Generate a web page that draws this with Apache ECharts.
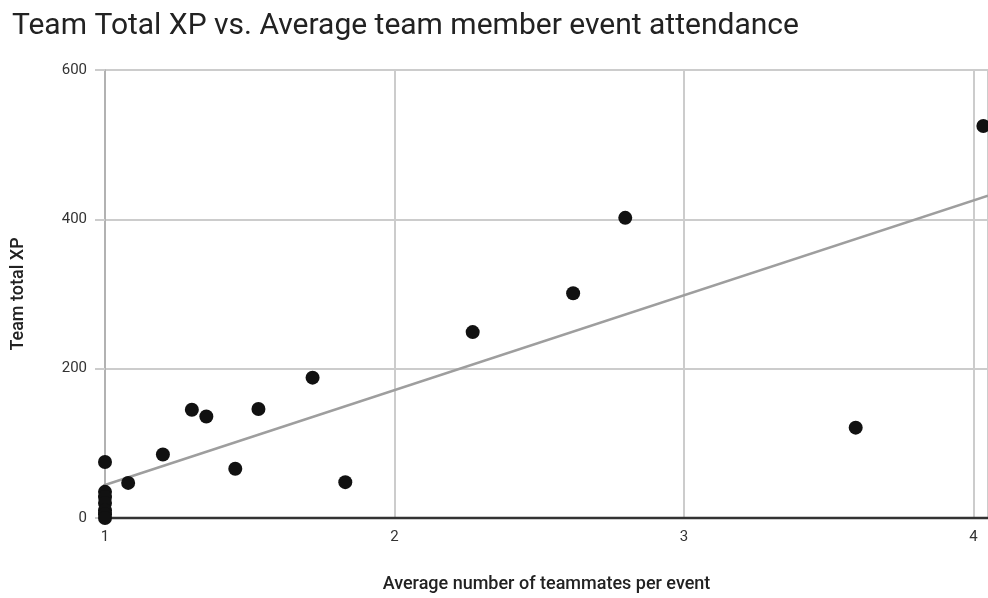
<!DOCTYPE html>
<html>
<head>
<meta charset="utf-8">
<script src="https://cdn.jsdelivr.net/npm/echarts@6/dist/echarts.min.js"></script>
<style>html,body{margin:0;padding:0;background:#fff;}#c{width:988px;height:598px;}</style>
</head>
<body>
<div id="c"></div>
<script>
const titleText = 'Team Total XP vs. Average team member event attendance';
const xName = 'Average number of teammates per event';
const yName = 'Team total XP';
const avgTeammates = [1, 1, 1, 1, 1, 1, 1, 1.08, 1.2, 1.3, 1.35, 1.45, 1.53, 1.717, 1.83, 2.27, 2.617, 2.797, 3.593, 4.034];
const teamXP = [75, 35, 28, 20, 10, 5, 0, 47, 85, 145, 136, 66, 146, 188, 48, 249, 301, 402, 121, 525];
const xTicks = [1, 2, 3, 4];
const yTicks = [0, 200, 400, 600];

const points = avgTeammates.map((x, i) => [x, teamXP[i]]);
// least squares trendline computed from the data
const n = points.length;
const mx = avgTeammates.reduce((a, b) => a + b, 0) / n;
const my = teamXP.reduce((a, b) => a + b, 0) / n;
let sxy = 0, sxx = 0;
for (let i = 0; i < n; i++) { sxy += (avgTeammates[i] - mx) * (teamXP[i] - my); sxx += (avgTeammates[i] - mx) ** 2; }
const slope = sxy / sxx, intercept = my - slope * mx;
const xLo = 0.965, xHi = 4.05;
const trend = [[xLo, intercept + slope * xLo], [xHi, intercept + slope * xHi]];

const chart = echarts.init(document.getElementById('c'), null, { renderer: 'canvas' });
chart.setOption({
  animation: false,
  textStyle: { fontFamily: 'Roboto' },
  title: { text: titleText, left: 7, top: 6, textStyle: { fontFamily: 'Roboto', fontSize: 30, fontWeight: 'normal', color: '#222' } },
  grid: { left: 105, right: 0, top: 70, bottom: 74, containLabel: false },
  xAxis: {
    type: 'value', min: xTicks[0], max: xHi, interval: 1,
    name: xName, nameLocation: 'middle', nameGap: 57,
    nameTextStyle: { fontFamily: 'Roboto', fontSize: 18, fontWeight: 500, color: '#222' },
    axisLine: { show: false },
    axisTick: { show: false },
    axisLabel: { color: '#333', fontSize: 15, margin: 12, showMaxLabel: false },
    splitLine: { show: true, lineStyle: { color: '#cccccc', width: 2 } }
  },
  yAxis: {
    type: 'value', min: yTicks[0], max: yTicks[yTicks.length - 1], interval: 200,
    name: yName, nameLocation: 'middle', nameGap: 78,
    nameTextStyle: { fontFamily: 'Roboto', fontSize: 18, fontWeight: 500, color: '#222' },
    axisLine: { show: true, lineStyle: { color: '#aaaaaa', width: 1.5 } },
    axisTick: { show: true, length: 10, lineStyle: { color: '#cccccc', width: 2 } },
    axisLabel: { color: '#333', fontSize: 15, margin: 18 },
    splitLine: { show: true, lineStyle: { color: '#cccccc', width: 2 } }
  },
  series: [
    {
      type: 'line', data: trend, symbol: 'none', clip: false, z: 2,
      lineStyle: { color: '#9e9e9e', width: 2.5 }, silent: true
    },
    {
      type: 'line', data: [[xLo, 0], [xHi, 0]], symbol: 'none', clip: false, z: 3,
      lineStyle: { color: '#333333', width: 2.5 }, silent: true
    },
    {
      type: 'scatter', data: points, symbolSize: 14, z: 4,
      itemStyle: { color: '#111111', opacity: 1 }
    }
  ]
});
</script>
</body>
</html>
